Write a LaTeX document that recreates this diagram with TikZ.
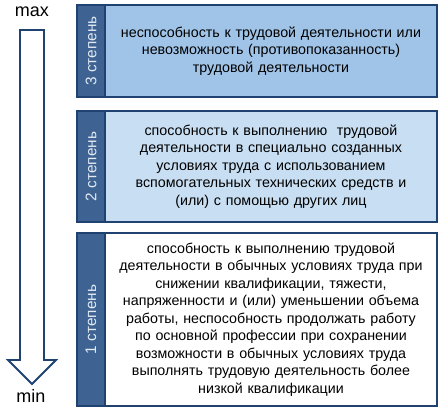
\documentclass[tikz,border=0pt]{standalone}
\usepackage{fontspec}
\setmainfont{Liberation Sans}
\usepackage{xcolor}
\usetikzlibrary{positioning,calc}
\definecolor{frameblue}{RGB}{31,66,112}
\definecolor{stripblue}{RGB}{62,99,146}
\definecolor{deepfill}{RGB}{160,196,232}
\definecolor{paleFill}{RGB}{200,222,242}
\definecolor{striptext}{RGB}{226,234,244}

\begin{document}
\begin{tikzpicture}[x=0.75pt,y=-0.75pt,font=\fontsize{10.7}{13.1}\selectfont,
  degbox/.style={draw=frameblue,line width=1.2pt,align=center,inner sep=2pt,minimum width=249pt,text width=244pt},
  strip/.style={draw=frameblue,line width=1.2pt,fill=stripblue,text=striptext,rotate=90,inner sep=0pt,minimum height=21pt,font=\fontsize{11.5}{13}\selectfont},
  ends/.style={font=\fontsize{13.5}{16}\selectfont,anchor=base}]
\useasboundingbox (0,0) rectangle (444,413);
% scale arrow
\draw[frameblue,line width=1.4pt,fill=white,line join=miter]
  (20,30) -- (44,30) -- (44,360) -- (56,360) -- (32,384) -- (8,360) -- (20,360) -- cycle;
\node[ends] (max) at (32,17) {max};
\node[ends] (min) at (31,403) {min};
% degrees
\node[degbox,fill=deepfill,minimum height=69pt] (deg3) at (271,51)
  {неспособность к трудовой деятельности или\\невозможность (противопоказанность)\\трудовой деятельности};
\node[strip,minimum width=69pt] (lab3) at (91,51) {3 степень};
\node[degbox,fill=paleFill,minimum height=83.25pt] (deg2) at (271,166.5)
  {способность к выполнению \ трудовой\\деятельности в специально созданных\\условиях труда с использованием\\вспомогательных технических средств и\\(или) с помощью других лиц};
\node[strip,minimum width=83.25pt] (lab2) at (91,166.5) {2 степень};
\node[degbox,fill=white,minimum height=129.75pt] (deg1) at (271,319.5)
  {способность к выполнению трудовой\\деятельности в обычных условиях труда при\\снижении квалификации, тяжести,\\напряженности и (или) уменьшении объема\\работы, неспособность продолжать работу\\по основной профессии при сохранении\\возможности в обычных условиях труда\\выполнять трудовую деятельность более\\низкой квалификации};
\node[strip,minimum width=129.75pt] (lab1) at (91,319.5) {1 степень};
\end{tikzpicture}
\end{document}
